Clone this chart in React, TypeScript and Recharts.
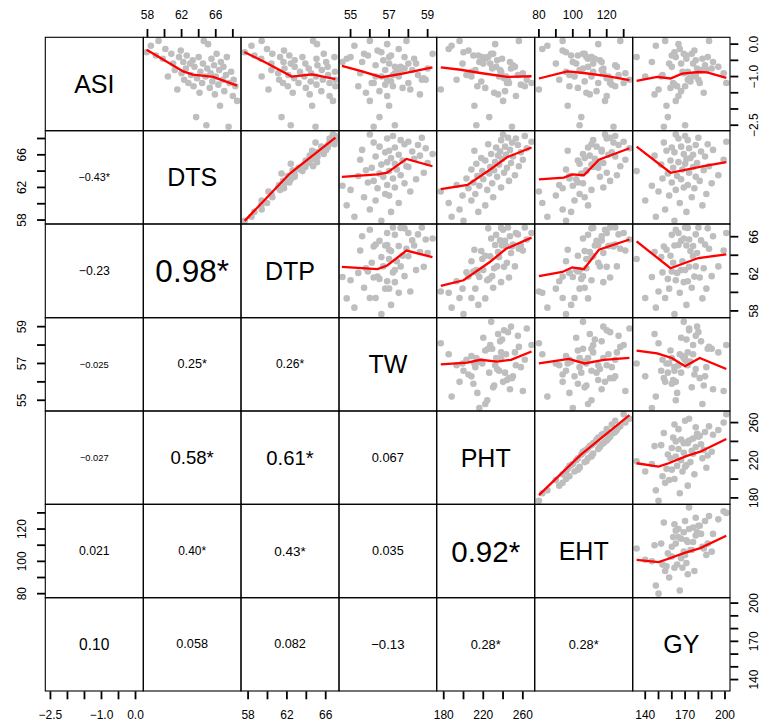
import React from "react";
import { ScatterChart, Scatter, XAxis, YAxis } from "recharts";

const FONT = "'Liberation Sans', Arial, Helvetica, sans-serif";

const varNames = ["ASI", "DTS", "DTP", "TW", "PHT", "EHT", "GY"];

// observations (one entry per plot/genotype)
const dts = [
  57.9, 58.4, 59.0, 59.3, 59.8, 60.1, 60.4, 60.8, 61.0, 61.2,
  61.5, 61.7, 61.9, 62.0, 62.2, 62.3, 62.5, 62.6, 62.8, 63.0,
  63.1, 63.3, 63.4, 63.5, 63.7, 63.8, 64.0, 64.1, 64.2, 64.4,
  64.5, 64.6, 64.8, 64.9, 65.0, 65.1, 65.3, 65.4, 65.5, 65.6,
  65.8, 65.9, 66.0, 66.1, 66.3, 66.4, 66.5, 66.6, 66.8, 66.9,
  67.0, 67.2, 67.3, 67.5, 67.6, 67.8, 68.0, 68.1, 68.3, 68.5,
];
const asi = [
  -0.25, -0.05, -0.35, 0.1, -0.45, -0.15, -1.0, -0.3, -0.6, -0.8,
  -1.4, -0.4, -0.2, -0.9, -0.55, -1.1, -0.75, -0.35, -1.2, -0.6,
  -0.95, -0.5, -1.3, -0.7, -2.25, -1.05, -0.4, -1.5, -0.85, -1.2,
  -0.6, 0.1, -1.0, -2.5, -0.75, 0.0, -1.35, -0.9, -0.45, -1.15,
  -0.65, -1.55, -1.0, -0.3, -1.25, -0.8, -1.9, -0.55, -1.1, -0.7,
  -1.45, -0.95, -0.4, -2.55, -1.2, -0.85, -1.6, -1.1, -1.3, -1.75,
];
const dtp = [
  57.65, 58.35, 58.65, 59.4, 59.35, 59.95, 59.4, 60.5, 60.4, 60.4,
  60.1, 61.3, 61.7, 61.1, 61.65, 61.2, 61.75, 62.25, 61.6, 62.4,
  62.15, 62.8, 62.1, 62.8, 61.45, 62.75, 63.6, 62.6, 63.35, 63.2,
  63.9, 64.7, 63.8, 62.4, 64.25, 65.1, 63.95, 64.5, 65.05, 64.45,
  65.15, 64.35, 65.0, 65.8, 65.05, 65.6, 64.6, 66.05, 65.7, 66.2,
  65.55, 66.25, 66.9, 64.95, 66.4, 66.95, 66.4, 67.0, 67.0, 66.75,
];
const tw = [
  56.6, 55.2, 57.1, 56.0, 54.8, 57.5, 56.3, 55.7, 57.0, 56.8,
  58.1, 55.0, 56.4, 57.3, 54.58, 56.9, 57.8, 55.9, 56.2, 58.4,
  57.2, 56.7, 55.4, 57.6, 56.5, 58.8, 57.0, 55.8, 57.4, 56.1,
  58.0, 57.9, 56.6, 57.3, 59.0, 56.9, 57.7, 55.5, 58.3, 57.1,
  56.3, 58.6, 57.5, 59.26, 56.8, 58.2, 57.0, 55.6, 58.9, 57.3,
  56.5, 58.5, 57.8, 56.2, 58.0, 57.6, 56.9, 58.7, 57.2, 56.0,
];
const pht = [
  200, 188, 215, 196, 222, 185, 208, 230, 199, 212,
  177, 224, 205, 238, 216, 193, 229, 210, 246, 220,
  203, 234, 214, 252, 226, 241, 219, 231, 208, 244,
  227, 256, 236, 213, 248, 232, 222, 260, 239, 218,
  250, 235, 243, 228, 258, 237, 211, 247, 264, 233,
  242, 255, 225, 249, 268.8, 238, 253, 245, 262, 240,
];
const eht = [
  96, 85, 99, 94, 109, 82, 101, 107, 90, 104,
  80, 111, 94, 118, 100, 92, 106, 103, 122, 102,
  98, 116, 98, 126, 105, 120, 108, 108, 96, 115,
  112, 128, 111, 104, 118, 115, 103, 131, 113, 107,
  125, 110, 121, 106, 123, 117, 97, 117, 133.4, 109,
  114, 127, 111, 124, 130, 112, 120, 122, 125, 119,
];
const gy = [
  162, 148, 171, 155, 183, 166, 140, 175, 158, 186,
  150, 163, 177, 169, 145, 172, 190, 160, 181, 167,
  153, 178, 164, 195, 157, 173, 133.5, 184, 168, 161,
  176, 188, 152, 170, 179, 165, 159, 199, 171, 174,
  185, 147, 176, 169, 162, 182, 156, 191, 173, 160,
  167, 178, 187, 154, 201, 172, 165, 180, 170, 163,
];

// axis ranges and ticks
const domainASI = [-2.66, 0.22];
const domainDTS = [57.48, 68.92];
const domainDTP = [57.27, 67.37];
const domainTW = [54.4, 59.47];
const domainPHT = [173.2, 272.3];
const domainEHT = [77.7, 135.5];
const domainGY = [130.8, 204];

const ticksASI = [-2.5, -2, -1.5, -1, -0.5, 0];
const ticksDTS = [58, 60, 62, 64, 66, 68];
const ticksDTP = [58, 60, 62, 64, 66];
const ticksTW = [55, 56, 57, 58, 59];
const ticksPHT = [180, 200, 220, 240, 260];
const ticksEHT = [80, 90, 100, 110, 120, 130];
const ticksGY = [140, 150, 160, 170, 180, 190, 200];

const labelsASI = [-2.5, -1, 0];
const labelsDTS = [58, 62, 66];
const labelsDTP = [58, 62, 66];
const labelsTW = [55, 57, 59];
const labelsPHT = [180, 220, 260];
const labelsEHT = [80, 100, 120];
const labelsGY = [140, 170, 200];

// lowess smooths: [x, y]
const smoothAsiDts = [[57.9, -0.17], [62.2, -0.84], [63.3, -0.94], [65.7, -1.01], [68.5, -1.28]];
const smoothAsiDtp = [[57.6, -0.24], [59.9, -0.58], [62.5, -1.0], [64.6, -0.93], [67.0, -1.08]];
const smoothAsiTw = [[54.55, -0.67], [55.6, -0.84], [56.6, -1.02], [57.7, -0.91], [59.25, -0.72]];
const smoothAsiPht = [[177, -0.72], [197, -0.79], [217, -0.89], [244, -1.01], [268.8, -0.99]];
const smoothAsiEht = [[80, -1.06], [96.8, -0.84], [106.5, -0.89], [120.3, -0.99], [133.4, -1.11]];
const smoothAsiGy = [[133.5, -1.13], [149, -1.01], [159, -1.06], [167.7, -0.91], [180, -0.86], [186.5, -0.87], [201, -1.04]];
const smoothDtsDtp = [[57.65, 57.9], [62.3, 63.7], [67.0, 68.1]];
const smoothDtsTw = [[54.55, 63.3], [56.4, 63.6], [56.9, 63.8], [57.9, 65.5], [59.25, 64.6]];
const smoothDtsPht = [[177, 61.8], [204, 62.3], [227, 64.2], [244, 65.7], [268.8, 66.9]];
const smoothDtsEht = [[80, 63.0], [94.7, 63.2], [99.7, 63.6], [106.5, 63.5], [115.4, 65.4], [133.4, 66.8]];
const smoothDtsGy = [[133.5, 67.0], [159, 63.8], [184, 64.6], [201, 65.1]];
const smoothDtpTw = [[54.55, 62.75], [56.4, 62.5], [56.9, 62.9], [57.9, 64.5], [59.25, 63.8]];
const smoothDtpPht = [[177, 60.7], [200, 61.3], [227, 63.3], [243, 64.7], [268.8, 65.9]];
const smoothDtpEht = [[80, 61.75], [93.8, 62.2], [99.7, 62.7], [106.5, 62.5], [115.4, 64.6], [133.4, 65.7]];
const smoothDtpGy = [[133.5, 65.5], [159, 62.6], [180, 63.7], [201, 64.1]];
const smoothTwPht = [[177, 56.95], [204, 57.05], [217, 57.2], [234, 57.1], [248, 57.2], [268.8, 57.65]];
const smoothTwEht = [[80, 57.0], [97.7, 57.25], [106.9, 57.0], [118.3, 57.2], [133.4, 57.3]];
const smoothTwGy = [[133.5, 57.7], [149, 57.55], [160, 57.3], [170, 56.85], [181, 57.3], [201, 56.7]];
const smoothPhtEht = [[80, 183], [104.6, 225.6], [133.4, 268]];
const smoothPhtGy = [[133.5, 216.8], [150, 213.2], [157.6, 216.8], [171.4, 224.6], [181.4, 229.1], [201, 242.6]];
const smoothEhtGy = [[133.5, 100.9], [150, 99.5], [156.4, 101.3], [169, 105.1], [181.4, 108.2], [201, 115.8]];

// correlations shown in the lower triangle (row variable vs earlier columns)
const corrDTS = ["\u22120.43*"];
const corrDTP = ["\u22120.23", "0.98*"];
const corrTW = ["\u22120.025", "0.25*", "0.26*"];
const corrPHT = ["\u22120.027", "0.58*", "0.61*", "0.067"];
const corrEHT = ["0.021", "0.40*", "0.43*", "0.035", "0.92*"];
const corrGY = ["0.10", "0.058", "0.082", "\u22120.13", "0.28*", "0.28*"];

const corrFontSize = [
  [],
  [10.8],
  [12.3, 31.5],
  [9.4, 12.6, 12.1],
  [9.3, 18.6, 20.3, 12.9],
  [12.3, 12, 13.5, 12.7, 29.5],
  [15.6, 12.7, 12.7, 13.2, 12.8, 12.8],
];

const columns = [asi, dts, dtp, tw, pht, eht, gy];
const domains = [domainASI, domainDTS, domainDTP, domainTW, domainPHT, domainEHT, domainGY];
const tickSets = [ticksASI, ticksDTS, ticksDTP, ticksTW, ticksPHT, ticksEHT, ticksGY];
const labelSets = [labelsASI, labelsDTS, labelsDTP, labelsTW, labelsPHT, labelsEHT, labelsGY];
const corrRows = [[], corrDTS, corrDTP, corrTW, corrPHT, corrEHT, corrGY];
const smooths: Record<string, number[][]> = {
  "0-1": smoothAsiDts, "0-2": smoothAsiDtp, "0-3": smoothAsiTw, "0-4": smoothAsiPht,
  "0-5": smoothAsiEht, "0-6": smoothAsiGy,
  "1-2": smoothDtsDtp, "1-3": smoothDtsTw, "1-4": smoothDtsPht, "1-5": smoothDtsEht, "1-6": smoothDtsGy,
  "2-3": smoothDtpTw, "2-4": smoothDtpPht, "2-5": smoothDtpEht, "2-6": smoothDtpGy,
  "3-4": smoothTwPht, "3-5": smoothTwEht, "3-6": smoothTwGy,
  "4-5": smoothPhtEht, "4-6": smoothPhtGy,
  "5-6": smoothEhtGy,
};

// panel grid edges (px)
const colEdges = [45.3, 143.3, 241, 339, 436.7, 534.7, 632.7, 730];
const rowEdges = [37.3, 130.7, 224, 317.7, 411, 504.3, 597.7, 691];
const AX = 40;
const PAD = 22;

const fmtTick = (c: number, v: number) => {
  const s = c === 0 ? Math.abs(v).toFixed(1) : String(Math.abs(v));
  return v < 0 ? "\u2212" + s : s;
};

const makeTick = (c: number, orient: string) => (props: any) => {
  const { x, y, payload } = props;
  const v = payload.value;
  if (!labelSets[c].some((l) => Math.abs(l - v) < 1e-9)) return <g />;
  const txt = fmtTick(c, v);
  const common = { fontSize: 12, fontFamily: FONT, fill: "#000", textAnchor: "middle" as const, dominantBaseline: "central" as const };
  if (orient === "bottom") return <text x={x} y={y + 16} {...common}>{txt}</text>;
  if (orient === "top") return <text x={x} y={y - 14.3} {...common}>{txt}</text>;
  if (orient === "left") {
    const cx = x - 14.8;
    return <text x={cx} y={y} transform={`rotate(-90, ${cx}, ${y})`} {...common}>{txt}</text>;
  }
  const cx = x + 15.3;
  return <text x={cx} y={y} transform={`rotate(-90, ${cx}, ${y})`} {...common}>{txt}</text>;
};

function Panel({ r, c }: { r: number; c: number }) {
  const hasTop = r === 0 && c % 2 === 1;
  const hasBottom = r === 6 && c % 2 === 0;
  const hasLeft = c === 0 && r % 2 === 1;
  const hasRight = c === 6 && r % 2 === 0;
  const mx = hasTop || hasBottom ? PAD : 0;
  const my = hasLeft || hasRight ? PAD : 0;
  const pw = colEdges[c + 1] - colEdges[c];
  const ph = rowEdges[r + 1] - rowEdges[r];
  const left = colEdges[c] - (hasLeft ? AX : 0) - mx;
  const top = rowEdges[r] - (hasTop ? AX : 0) - my;
  const width = pw + (hasLeft ? AX : 0) + (hasRight ? AX : 0) + 2 * mx;
  const height = ph + (hasTop ? AX : 0) + (hasBottom ? AX : 0) + 2 * my;
  const upper = c > r;
  const pts = columns[c].map((v, i) => ({ x: v, y: columns[r][i] }));
  const sm = (smooths[`${r}-${c}`] || []).map(([x, y]) => ({ x, y }));
  const xOrient = hasTop ? "top" : "bottom";
  const yOrient = hasLeft ? "left" : "right";

  return (
    <div style={{ position: "absolute", left, top, width, height }}>
      <ScatterChart width={width} height={height} margin={{ top: my, right: mx, bottom: my, left: mx }}>
        <XAxis
          type="number"
          dataKey="x"
          domain={domains[c]}
          allowDataOverflow
          ticks={tickSets[c]}
          interval={0}
          hide={!(hasTop || hasBottom)}
          orientation={xOrient}
          height={AX}
          axisLine={false}
          stroke="#000"
          tickSize={8}
          tickMargin={0}
          tickLine={{ stroke: "#000", strokeWidth: 1.8 }}
          tick={makeTick(c, xOrient)}
        />
        <YAxis
          type="number"
          dataKey="y"
          domain={domains[r]}
          allowDataOverflow
          ticks={tickSets[r]}
          interval={0}
          hide={!(hasLeft || hasRight)}
          orientation={yOrient}
          width={AX}
          axisLine={false}
          stroke="#000"
          tickSize={8}
          tickMargin={0}
          tickLine={{ stroke: "#000", strokeWidth: 1.8 }}
          tick={makeTick(r, yOrient)}
        />
        <Scatter
          data={pts}
          isAnimationActive={false}
          shape={(p: any) =>
            upper ? <circle cx={p.cx} cy={p.cy} r={3.3} fill="#BEBEBE" /> : <g />
          }
        />
        {upper && (
          <Scatter
            data={sm}
            isAnimationActive={false}
            fill="#FF0000"
            line={{ stroke: "#FF0000", strokeWidth: 2.3 }}
            lineType="joint"
            shape={() => <g />}
          />
        )}
      </ScatterChart>
    </div>
  );
}

export default function App() {
  const panels = [];
  for (let r = 0; r < 7; r++) for (let c = 0; c < 7; c++) panels.push(<Panel key={`${r}-${c}`} r={r} c={c} />);

  const boxes = [];
  const texts = [];
  for (let r = 0; r < 7; r++) {
    for (let c = 0; c < 7; c++) {
      const x0 = colEdges[c], x1 = colEdges[c + 1], y0 = rowEdges[r], y1 = rowEdges[r + 1];
      boxes.push(<rect key={`b${r}-${c}`} x={x0} y={y0} width={x1 - x0} height={y1 - y0} fill="none" stroke="#000" strokeWidth={1.1} />);
      const cx = (x0 + x1) / 2, cy = (y0 + y1) / 2;
      if (r === c) {
        texts.push(
          <text key={`d${r}`} x={cx} y={cy} textAnchor="middle" dominantBaseline="central" fontSize={25} fontFamily={FONT} fill="#000">
            {varNames[r]}
          </text>
        );
      } else if (r > c) {
        texts.push(
          <text key={`t${r}-${c}`} x={cx} y={cy} textAnchor="middle" dominantBaseline="central" fontSize={corrFontSize[r][c]} fontFamily={FONT} fill="#000">
            {corrRows[r][c]}
          </text>
        );
      }
    }
  }

  return (
    <div style={{ position: "absolute", left: 0, top: 0, width: 762, height: 725, background: "#fff", fontFamily: FONT }}>
      {panels}
      <svg width={762} height={725} style={{ position: "absolute", left: 0, top: 0, pointerEvents: "none" }}>
        {boxes}
        {texts}
      </svg>
    </div>
  );
}
